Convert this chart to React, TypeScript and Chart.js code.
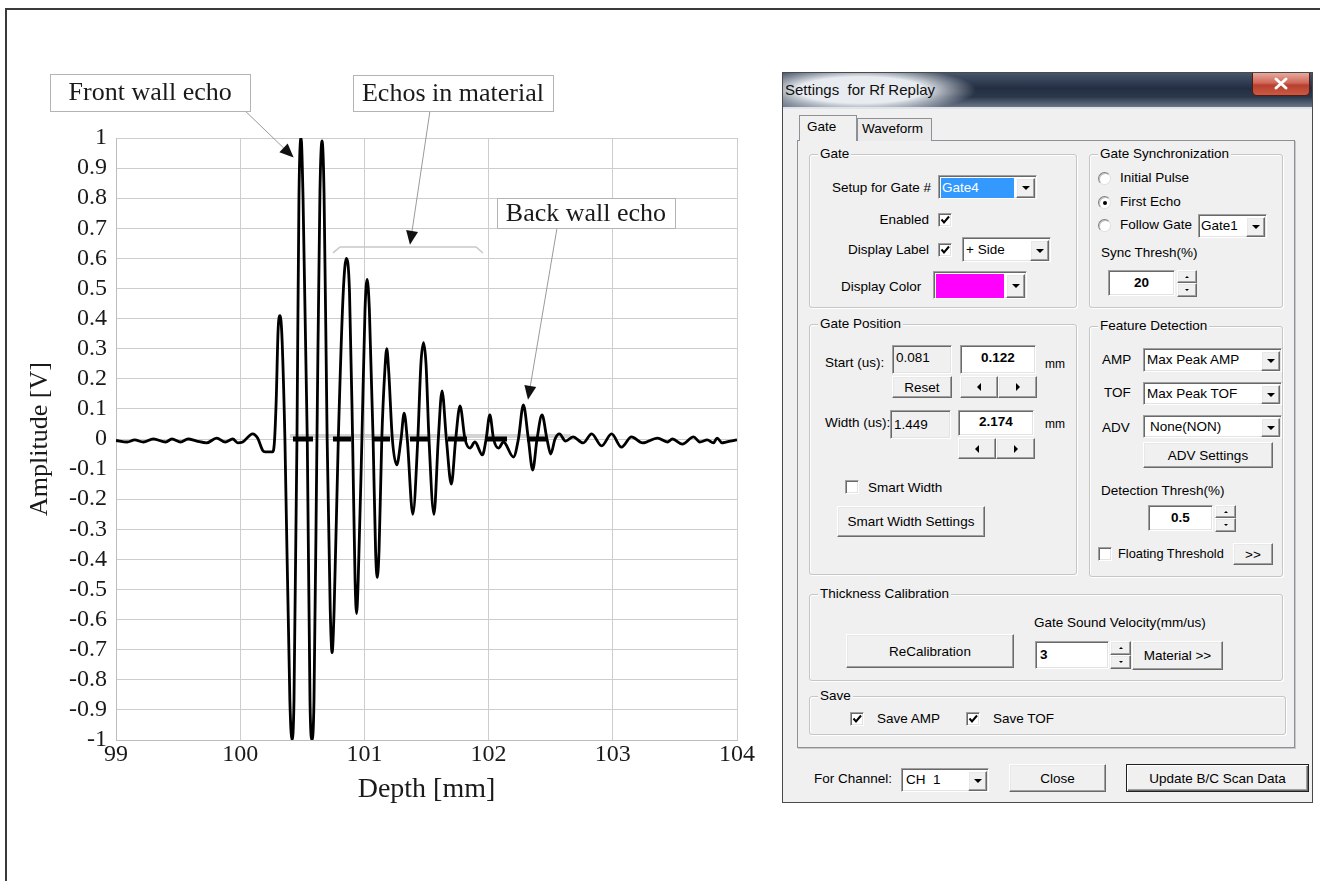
import React, { useEffect, useRef } from 'react';
import { Chart, registerables } from 'chart.js';

Chart.register(...registerables);

// ---------------- Chart data ----------------
const depthMm = [
  99.0, 99.09, 99.15, 99.22, 99.3, 99.4, 99.45, 99.52, 99.58, 99.65, 99.73, 99.81, 99.88, 99.94, 99.98,
  100.02, 100.1, 100.14, 100.18, 100.2, 100.26, 100.275, 100.29, 100.305, 100.32, 100.335, 100.36,
  100.4, 100.417, 100.433, 100.457, 100.473, 100.49, 100.506, 100.54, 100.562, 100.578, 100.594, 100.618,
  100.642, 100.659, 100.675, 100.7, 100.725, 100.74, 100.756, 100.79, 100.83, 100.855, 100.88, 100.905,
  100.925, 100.937, 100.95, 100.98, 101.005, 101.022, 101.04, 101.07, 101.09, 101.103, 101.118, 101.14,
  101.165, 101.18, 101.195, 101.225, 101.26, 101.295, 101.32, 101.345, 101.39, 101.43, 101.455, 101.476,
  101.496, 101.52, 101.56, 101.595, 101.625, 101.66, 101.7, 101.735, 101.77, 101.81, 101.85, 101.89,
  101.95, 101.98, 102.01, 102.04, 102.08, 102.12, 102.2, 102.24, 102.28, 102.32, 102.355, 102.39, 102.43,
  102.47, 102.5, 102.535, 102.57, 102.62, 102.68, 102.76, 102.83, 102.91, 102.99, 103.07, 103.15, 103.24,
  103.36, 103.44, 103.48, 103.56, 103.65, 103.7, 103.76, 103.81, 103.84, 103.88, 103.91, 104.0,
];
const amplitudeV = [
  -0.005, -0.01, -0.003, -0.01, 0.0, -0.01, 0.0, -0.01, 0.0, -0.007, -0.013, 0.003, -0.01, 0.0, -0.013,
  -0.01, 0.017, 0.003, -0.037, -0.043, -0.043, -0.013, 0.13, 0.36, 0.41, 0.35, 0.0,
  -0.87, -1.0, -0.87, 0.0, 0.8, 1.0, 0.8, 0.0, -0.87, -1.0, -0.87, 0.0,
  0.82, 0.99, 0.82, 0.0, -0.57, -0.71, -0.57, 0.0, 0.49, 0.6, 0.49, 0.0,
  -0.47, -0.58, -0.47, 0.0, 0.43, 0.53, 0.43, 0.0, -0.37, -0.46, -0.37, 0.0,
  0.23, 0.3, 0.23, 0.0, -0.086, 0.0, 0.086, 0.0, -0.25, 0.0, 0.25, 0.32,
  0.25, 0.0, -0.25, 0.0, 0.16, 0.0, -0.15, 0.0, 0.11, 0.0, -0.03, -0.01,
  -0.053, 0.0, 0.08, 0.0, -0.03, -0.01, -0.06, 0.0, 0.113, 0.0, -0.103, 0.0, 0.08,
  0.0, -0.05, 0.0, 0.017, -0.007, 0.007, -0.013, 0.017, -0.023, 0.017, -0.027, 0.007, -0.013,
  0.003, -0.01, 0.0, -0.017, 0.007, -0.01, -0.003, -0.013, 0.003, -0.013, -0.01, -0.003,
];
const gateStartMm = [100.425, 100.747, 101.069, 101.367, 101.673, 101.971, 102.309];
const gateEndMm = [100.586, 100.892, 101.206, 101.528, 101.826, 102.148, 102.47];
const gateShadowMm = [100.4, 102.66];

const xMin = 99;
const xMax = 104;
const yMin = -1;
const yMax = 1;

const xTitle = 'Depth [mm]';
const yTitle = 'Amplitude [V]';

// annotations (in data units)
const noteLabels = ['Front wall echo', 'Echos in material', 'Back wall echo'];
const noteX0 = [98.47, 100.908, 102.068];
const noteX1 = [100.08, 102.518, 103.5];
const noteYTop = [1.212, 1.209, 0.8];
const noteYBottom = [1.09, 1.09, 0.701];
const arrowFromX = [100.04, 101.528, 102.551];
const arrowFromY = [1.09, 1.09, 0.701];
const arrowToX = [100.43, 101.367, 102.317];
const arrowToY = [0.935, 0.645, 0.13];
const bracketX = [100.747, 100.804, 101.899, 101.955];
const bracketY = [0.618, 0.638, 0.638, 0.618];

const SERIF = '"Liberation Serif", "Times New Roman", serif';

const annotationPlugin = {
  id: 'echoNotes',
  afterDatasetsDraw(chart: any) {
    const { ctx } = chart;
    const xs = chart.scales.x;
    const ys = chart.scales.y;
    const px = (v: number) => xs.getPixelForValue(v);
    const py = (v: number) => ys.getPixelForValue(v);
    ctx.save();
    // bracket
    ctx.strokeStyle = '#c8c8c8';
    ctx.lineWidth = 1.6;
    ctx.beginPath();
    bracketX.forEach((bx, i) => {
      const X = px(bx);
      const Y = py(bracketY[i]);
      if (i === 0) ctx.moveTo(X, Y);
      else ctx.lineTo(X, Y);
    });
    ctx.stroke();
    // arrows
    arrowFromX.forEach((fx, i) => {
      const x0 = px(fx);
      const y0 = py(arrowFromY[i]);
      const x1 = px(arrowToX[i]);
      const y1 = py(arrowToY[i]);
      const dx = x1 - x0;
      const dy = y1 - y0;
      const len = Math.hypot(dx, dy);
      const ux = dx / len;
      const uy = dy / len;
      const hl = 14;
      const hw = 6;
      const bx = x1 - ux * hl;
      const by = y1 - uy * hl;
      ctx.strokeStyle = '#9a9a9a';
      ctx.lineWidth = 1;
      ctx.beginPath();
      ctx.moveTo(x0, y0);
      ctx.lineTo(bx, by);
      ctx.stroke();
      ctx.fillStyle = '#111';
      ctx.beginPath();
      ctx.moveTo(x1, y1);
      ctx.lineTo(bx - uy * hw, by + ux * hw);
      ctx.lineTo(bx + uy * hw, by - ux * hw);
      ctx.closePath();
      ctx.fill();
    });
    // boxes
    noteLabels.forEach((label, i) => {
      const l = px(noteX0[i]);
      const r = px(noteX1[i]);
      const t = py(noteYTop[i]);
      const b = py(noteYBottom[i]);
      ctx.fillStyle = '#ffffff';
      ctx.fillRect(l, t, r - l, b - t);
      ctx.strokeStyle = '#b4b4b4';
      ctx.lineWidth = 1;
      ctx.strokeRect(Math.round(l) + 0.5, Math.round(t) + 0.5, Math.round(r - l), Math.round(b - t));
      ctx.fillStyle = '#1a1a1a';
      ctx.font = `26px ${SERIF}`;
      ctx.textAlign = 'center';
      ctx.textBaseline = 'middle';
      ctx.fillText(label, (l + r) / 2, (t + b) / 2 + 1);
    });
    ctx.restore();
  },
};

function WaveChart() {
  const ref = useRef<HTMLCanvasElement | null>(null);
  useEffect(() => {
    if (!ref.current) return;
    const wave = depthMm.map((d, i) => ({ x: d, y: amplitudeV[i] }));
    const gates: any[] = [];
    gateStartMm.forEach((s, i) => {
      gates.push({ x: s, y: 0 });
      gates.push({ x: gateEndMm[i], y: 0 });
      gates.push({ x: (gateEndMm[i] + (gateStartMm[i + 1] ?? gateEndMm[i] + 0.1)) / 2, y: null });
    });
    const shadow = gateShadowMm.map((d) => ({ x: d, y: 0.01 }));
    const chart = new Chart(ref.current, {
      type: 'line',
      data: {
        datasets: [
          {
            data: gates,
            borderColor: '#000',
            borderWidth: 5,
            pointRadius: 0,
            tension: 0,
            spanGaps: false,
            borderCapStyle: 'butt',
            order: 1,
          } as any,
          {
            data: wave,
            borderColor: '#000',
            borderWidth: 2.8,
            pointRadius: 0,
            cubicInterpolationMode: 'monotone',
            order: 2,
          } as any,
          {
            data: shadow,
            borderColor: 'rgba(200,200,200,0.8)',
            borderWidth: 4,
            pointRadius: 0,
            order: 3,
          } as any,
        ],
      },
      options: {
        responsive: false,
        devicePixelRatio: 1,
        animation: false,
        parsing: false,
        normalized: true,
        layout: { padding: { top: 138, right: 43, bottom: 0, left: 0 } },
        plugins: { legend: { display: false }, tooltip: { enabled: false } },
        scales: {
          x: {
            type: 'linear',
            min: xMin,
            max: xMax,
            afterFit: (s: any) => {
              s.height = 90;
            },
            ticks: {
              stepSize: 1,
              autoSkip: false,
              maxRotation: 0,
              padding: 0,
              color: '#1a1a1a',
              font: { family: SERIF, size: 24 },
            },
            grid: { color: '#cdcdcd', drawTicks: false, tickLength: 0 },
            border: { display: true, color: '#bdbdbd' },
            title: {
              display: true,
              text: xTitle,
              color: '#1a1a1a',
              font: { family: SERIF, size: 28 },
              padding: { top: 0, bottom: 24 },
            },
          },
          y: {
            type: 'linear',
            min: yMin,
            max: yMax,
            afterFit: (s: any) => {
              s.width = 116;
            },
            ticks: {
              stepSize: 0.1,
              autoSkip: false,
              maxTicksLimit: 30,
              padding: 9,
              color: '#1a1a1a',
              font: { family: SERIF, size: 24 },
              callback: (v: any) => {
                const r = Math.round(Number(v) * 10) / 10;
                return r === 0 ? '0' : String(r);
              },
            },
            grid: { color: '#cdcdcd', drawTicks: false, tickLength: 0 },
            border: { display: true, color: '#bdbdbd' },
            title: {
              display: true,
              text: yTitle,
              color: '#1a1a1a',
              font: { family: SERIF, size: 26 },
              padding: { top: 25, bottom: 0 },
            },
          },
        },
      } as any,
      plugins: [annotationPlugin],
    });
    return () => chart.destroy();
  }, []);
  return (
    <canvas
      ref={ref}
      width={780}
      height={830}
      style={{ position: 'absolute', left: 0, top: 0, width: 780, height: 830 }}
    />
  );
}

// ---------------- Dialog widgets ----------------
const UI = '"Liberation Sans", Arial, sans-serif';
const FS = 13.5;
const pos = (x: number, y: number, w: number, h: number, extra: any = {}) => ({
  position: 'absolute' as const,
  left: x,
  top: y,
  width: w,
  height: h,
  boxSizing: 'border-box' as const,
  ...extra,
});
const raised = {
  background: '#f0f0f0',
  borderStyle: 'solid',
  borderWidth: 1,
  borderColor: '#ffffff #6a6a6a #6a6a6a #ffffff',
  boxShadow: 'inset -1px -1px 0 #a0a0a0, inset 1px 1px 0 #e8e8e8',
};
const sunken = {
  background: '#ffffff',
  borderStyle: 'solid',
  borderWidth: 1,
  borderColor: '#a0a0a0 #ffffff #ffffff #a0a0a0',
  boxShadow: 'inset 1px 1px 0 #696969, inset -1px -1px 0 #e3e3e3',
};

function Txt({ x, cy, t, end, bold, size = FS }: any) {
  return (
    <div
      style={{
        position: 'absolute',
        left: x,
        top: cy - 9,
        height: 18,
        lineHeight: '18px',
        fontFamily: UI,
        fontSize: size,
        fontWeight: bold ? 700 : 400,
        whiteSpace: 'pre',
        color: '#000',
        transform: end ? 'translateX(-100%)' : undefined,
      }}
    >
      {t}
    </div>
  );
}

function Tri({ dir, s = 4 }: any) {
  const st: any = { width: 0, height: 0 };
  const tr = `${s}px solid transparent`;
  const bk = `${s}px solid #000`;
  if (dir === 'down') Object.assign(st, { borderLeft: tr, borderRight: tr, borderTop: bk });
  if (dir === 'up') Object.assign(st, { borderLeft: tr, borderRight: tr, borderBottom: bk });
  if (dir === 'left') Object.assign(st, { borderTop: tr, borderBottom: tr, borderRight: bk });
  if (dir === 'right') Object.assign(st, { borderTop: tr, borderBottom: tr, borderLeft: bk });
  return <div style={st} />;
}

function Btn({ x, y, w, h, t, dflt }: any) {
  const st: any = {
    ...pos(x, y, w, h),
    ...raised,
    display: 'flex',
    alignItems: 'center',
    justifyContent: 'center',
    fontFamily: UI,
    fontSize: FS,
    whiteSpace: 'pre',
  };
  if (dflt) {
    st.borderColor = '#202020';
    st.boxShadow = 'inset 1px 1px 0 #ffffff, inset -1px -1px 0 #6a6a6a, inset -2px -2px 0 #a0a0a0';
  }
  return <div style={st}>{t}</div>;
}

function Edit({ x, y, w, h, t, bold, align = 'left', ro, pt = 2, pl = 3 }: any) {
  return (
    <div
      style={{
        ...pos(x, y, w, h),
        ...sunken,
        background: ro ? '#f0f0f0' : '#ffffff',
        fontFamily: UI,
        fontSize: FS,
        fontWeight: bold ? 700 : 400,
        textAlign: align,
        paddingTop: pt,
        paddingLeft: align === 'left' ? pl : 0,
        lineHeight: '18px',
        whiteSpace: 'pre',
      }}
    >
      {t}
    </div>
  );
}

function Combo({ x, y, w, h, t, sel, color, tx = 3 }: any) {
  return (
    <div style={{ ...pos(x, y, w, h), ...sunken }}>
      {color ? (
        <div style={pos(2, 2, w - 26, h - 4, { background: color })} />
      ) : sel ? (
        <div
          style={pos(2, 2, w - 26, h - 4, {
            background: '#3399ff',
            color: '#fff',
            fontFamily: UI,
            fontSize: FS,
            lineHeight: `${h - 4}px`,
            paddingLeft: 1,
          })}
        >
          {t}
        </div>
      ) : (
        <div
          style={pos(tx, 0, w - 26, h - 2, {
            fontFamily: UI,
            fontSize: FS,
            lineHeight: `${h - 2}px`,
            whiteSpace: 'pre',
          })}
        >
          {t}
        </div>
      )}
      <div
        style={{
          ...pos(w - 22, 2, 19, h - 4),
          ...raised,
          display: 'flex',
          alignItems: 'center',
          justifyContent: 'center',
        }}
      >
        <Tri dir="down" s={4} />
      </div>
    </div>
  );
}

function Spin({ x, y, w, h }: any) {
  const hh = Math.floor(h / 2);
  const cell: any = { ...raised, display: 'flex', alignItems: 'center', justifyContent: 'center' };
  return (
    <>
      <div style={{ ...pos(x, y, w, hh), ...cell }}>
        <Tri dir="up" s={2} />
      </div>
      <div style={{ ...pos(x, y + hh, w, h - hh), ...cell }}>
        <Tri dir="down" s={2} />
      </div>
    </>
  );
}

function ArrowPair({ x, y, w, h }: any) {
  const hw = Math.floor(w / 2);
  const cell: any = { ...raised, display: 'flex', alignItems: 'center', justifyContent: 'center' };
  return (
    <>
      <div style={{ ...pos(x, y, hw, h), ...cell }}>
        <Tri dir="left" s={4} />
      </div>
      <div style={{ ...pos(x + hw, y, w - hw, h), ...cell }}>
        <Tri dir="right" s={4} />
      </div>
    </>
  );
}

function Check({ x, y, on }: any) {
  return (
    <div style={{ ...pos(x, y, 14, 14), ...sunken }}>
      {on ? (
        <svg width="12" height="12" style={{ position: 'absolute', left: 0, top: 0 }}>
          <polyline points="2.5,5.5 5,8.5 10,2.5" fill="none" stroke="#000" strokeWidth="2" />
        </svg>
      ) : null}
    </div>
  );
}

function Radio({ x, cy, on }: any) {
  return (
    <div
      style={pos(x, cy - 6, 13, 13, {
        borderRadius: '50%',
        background: '#fff',
        border: '1px solid',
        borderColor: '#808080 #e0e0e0 #e0e0e0 #808080',
        boxShadow: 'inset 1px 1px 0 #c0c0c0',
      })}
    >
      {on ? (
        <div style={pos(3.5, 3.5, 4, 4, { borderRadius: '50%', background: '#000' })} />
      ) : null}
    </div>
  );
}

function Group({ x, y, r, b, t }: any) {
  return (
    <>
      <div
        style={pos(x, y, r - x, b - y, {
          border: '1px solid #c6c6c6',
          borderRadius: 3,
          boxShadow: 'inset 1px 1px 0 #ffffff, 1px 1px 0 #ffffff',
        })}
      />
      <div
        style={{
          position: 'absolute',
          left: x + 9,
          top: y - 9,
          height: 18,
          lineHeight: '18px',
          padding: '0 2px',
          background: '#f0f0f0',
          fontFamily: UI,
          fontSize: FS,
          whiteSpace: 'pre',
        }}
      >
        {t}
      </div>
    </>
  );
}

function Dialog() {
  return (
    <>
      {/* window */}
      <div style={pos(782, 72, 531, 731, { background: '#f0f0f0', border: '1px solid #4a4a4a' })} />
      {/* title bar */}
      <div
        style={pos(783, 73, 529, 34, {
          background:
            'radial-gradient(ellipse 115px 24px at 78px 17px, rgba(232,236,240,1) 55%, rgba(232,236,240,0) 100%), linear-gradient(to bottom, #47556a 0%, #232e42 45%, #2b374b 70%, #6a7788 100%)',
        })}
      />
      <div
        style={{
          position: 'absolute',
          left: 785,
          top: 80,
          height: 20,
          lineHeight: '20px',
          fontFamily: UI,
          fontSize: 15,
          whiteSpace: 'pre',
          color: '#111',
        }}
      >
        {'Settings  for Rf Replay'}
      </div>
      <div
        style={pos(1252, 73, 58, 23, {
          background: 'linear-gradient(to bottom, #e8a89c 0%, #d0685a 45%, #b8402e 55%, #c85a44 100%)',
          border: '1px solid #5a1a10',
          borderTop: 'none',
          borderRadius: '0 0 5px 5px',
        })}
      >
        <svg width="56" height="22" style={{ position: 'absolute', left: 0, top: 0 }}>
          <path d="M23 6 L33 15 M33 6 L23 15" stroke="#ffffff" strokeWidth="3" strokeLinecap="round" />
        </svg>
      </div>
      <div style={pos(783, 107, 529, 2, { background: '#dfe4ea' })} />

      {/* tab control */}
      <div
        style={pos(797, 140, 498, 608, {
          border: '1px solid #8e9096',
          boxShadow: '1px 1px 0 #c8c8c8',
          background: '#f0f0f0',
        })}
      />
      <div
        style={pos(857, 118, 75, 23, {
          border: '1px solid #8e9096',
          borderBottom: 'none',
          background: '#ebebeb',
        })}
      />
      <Txt x={862} cy={129} t="Waveform" />
      <div
        style={pos(799, 115, 58, 26, {
          border: '1px solid #8e9096',
          borderBottom: 'none',
          background: '#f0f0f0',
        })}
      />
      <Txt x={807} cy={127} t="Gate" />

      {/* Gate group */}
      <Group x={809} y={154} r={1077} b={308} t="Gate" />
      <Txt x={931} cy={188} t="Setup for Gate #" end />
      <Combo x={938} y={175} w={99} h={24} t="Gate4" sel />
      <Txt x={929} cy={220} t="Enabled" end />
      <Check x={938} y={213} on />
      <Txt x={929} cy={250} t="Display Label" end />
      <Check x={938} y={243} on />
      <Combo x={962} y={237} w={89} h={25} t="+ Side" />
      <Txt x={841} cy={287} t="Display Color" />
      <Combo x={933} y={271} w={94} h={28} color="#ff00ff" />

      {/* Gate Synchronization */}
      <Group x={1089} y={154} r={1283} b={308} t="Gate Synchronization" />
      <Radio x={1098} cy={178} />
      <Txt x={1120} cy={178} t="Initial Pulse" />
      <Radio x={1098} cy={202} on />
      <Txt x={1120} cy={202} t="First Echo" />
      <Radio x={1098} cy={225} />
      <Txt x={1120} cy={225} t="Follow Gate" />
      <Combo x={1198} y={214} w={69} h={24} t="Gate1" tx={2} />
      <Txt x={1101} cy={253} t="Sync Thresh(%)" />
      <Edit x={1108} y={270} w={67} h={26} t="20" bold align="center" pt={3} />
      <Spin x={1177} y={270} w={20} h={27} />

      {/* Gate Position */}
      <Group x={809} y={324} r={1077} b={575} t="Gate Position" />
      <Txt x={825} cy={363} t="Start (us):" />
      <Edit x={892} y={345} w={60} h={29} t="0.081" ro pt={3} />
      <Edit x={960} y={345} w={76} h={29} t="0.122" bold align="center" pt={3} />
      <Txt x={1045} cy={364} t="mm" size={12} />
      <Btn x={892} y={376} w={60} h={22} t="Reset" />
      <ArrowPair x={960} y={376} w={77} h={22} />
      <Txt x={825} cy={423} t="Width (us):" />
      <Edit x={890} y={410} w={61} h={29} t="1.449" ro pt={5} />
      <Edit x={958} y={410} w={76} h={26} t="2.174" bold align="center" pt={2} />
      <Txt x={1045} cy={424} t="mm" size={12} />
      <ArrowPair x={958} y={438} w={77} h={21} />
      <Check x={845} y={480} />
      <Txt x={868} cy={488} t="Smart Width" />
      <Btn x={837} y={506} w={148} h={31} t="Smart Width Settings" />

      {/* Feature Detection */}
      <Group x={1089} y={326} r={1283} b={577} t="Feature Detection" />
      <Txt x={1102} cy={360} t="AMP" />
      <Combo x={1143} y={348} w={139} h={24} t="Max Peak AMP" tx={3} />
      <Txt x={1104} cy={393} t="TOF" />
      <Combo x={1143} y={382} w={139} h={23} t="Max Peak TOF" tx={3} />
      <Txt x={1102} cy={428} t="ADV" />
      <Combo x={1143} y={415} w={139} h={23} t="None(NON)" tx={6} />
      <Btn x={1143} y={442} w={130} h={26} t="ADV Settings" />
      <Txt x={1101} cy={491} t="Detection Thresh(%)" />
      <Edit x={1148} y={505} w={65} h={26} t="0.5" bold align="center" pt={3} />
      <Spin x={1215} y={505} w={21} h={27} />
      <Check x={1098} y={547} />
      <Txt x={1118} cy={554} t="Floating Threshold" size={12.8} />
      <Btn x={1233} y={543} w={40} h={22} t=">>" />

      {/* Thickness Calibration */}
      <Group x={809} y={594} r={1283} b={681} t="Thickness Calibration" />
      <Txt x={1034} cy={623} t="Gate Sound Velocity(mm/us)" />
      <Btn x={846} y={634} w={168} h={34} t="ReCalibration" />
      <Edit x={1035} y={641} w={74} h={28} t="3" bold pt={4} pl={4} />
      <Spin x={1110} y={641} w={21} h={28} />
      <Btn x={1132} y={641} w={91} h={29} t="Material >>" />

      {/* Save */}
      <Group x={809} y={696} r={1286} b={735} t="Save" />
      <Check x={850} y={712} on />
      <Txt x={877} cy={719} t="Save AMP" />
      <Check x={966} y={712} on />
      <Txt x={993} cy={719} t="Save TOF" />

      {/* bottom row */}
      <Txt x={814} cy={779} t="For Channel:" />
      <Combo x={901} y={768} w={88} h={24} t="CH  1" tx={4} />
      <Btn x={1009} y={764} w={97} h={28} t="Close" />
      <Btn x={1126} y={764} w={183} h={28} t="Update B/C Scan Data" dflt />
    </>
  );
}

export default function App() {
  return (
    <div
      style={{
        position: 'fixed',
        left: 0,
        top: 0,
        width: 1320,
        height: 881,
        overflow: 'hidden',
        background: '#ffffff',
      }}
    >
      <div style={pos(5, 8, 1400, 1000, { border: '2px solid #3a3a3a' })} />
      <WaveChart />
      <Dialog />
    </div>
  );
}
